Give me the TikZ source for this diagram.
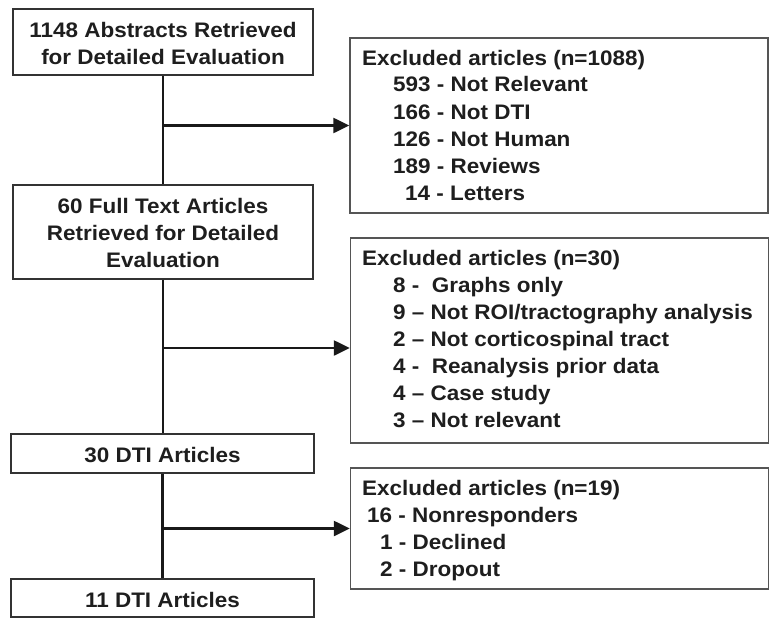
\documentclass[tikz,border=0pt]{standalone}
\usepackage{fontspec}
\setmainfont{Liberation Sans}[FakeStretch=1.07]
\usetikzlibrary{arrows.meta}
\newcommand\dfont{\bfseries\fontsize{21}{27}\selectfont}
\definecolor{txtc}{HTML}{1E1E1E}
\definecolor{lbox}{HTML}{333333}
\definecolor{rbox}{HTML}{555555}
\begin{document}
\begin{tikzpicture}[x=1pt,y=-1pt,
  lbx/.style={draw=lbox,line width=1.8pt,fill=white,inner sep=0pt,minimum width=300pt},
  rbx/.style={draw=rbox,line width=1.4pt,fill=white,inner sep=0pt,minimum width=418pt},
  ctxt/.style={align=center,inner sep=0pt,font=\dfont,text=txtc},
  ltxt/.style={anchor=base west,inner sep=0pt,font=\dfont,text=txtc},
  conn/.style={draw=black!90,line width=2.4pt},
  arr/.style={conn,-{Triangle[length=16pt,width=15pt]}}]
\useasboundingbox (0,0) rectangle (773,618);
% left boxes
\node[lbx,minimum height=66pt] (A) at (163,42) {};
\node[ctxt] (At) at (163,43) {1148 Abstracts Retrieved\\for Detailed Evaluation};
\node[lbx,minimum height=94pt] (B) at (163,232) {};
\node[ctxt] (Bt) at (163,233) {60 Full Text Articles\\Retrieved for Detailed\\Evaluation};
\node[lbx,minimum width=303pt,minimum height=39pt] (C) at (162.5,453.5) {};
\node[ltxt,anchor=base] (Ct) at (162.5,462) {30 DTI Articles};
\node[lbx,minimum width=303pt,minimum height=38pt] (D) at (162.5,598) {};
\node[ltxt,anchor=base] (Dt) at (162.5,607) {11 DTI Articles};
% right boxes
\node[rbx,minimum height=175pt] (R1) at (559,125.5) {};
\node[ltxt] (r1a) at (362,65) {Excluded articles (n=1088)};
\node[ltxt] (r1b) at (393,92) {593 - Not Relevant};
\node[ltxt] (r1c) at (393,119) {166 - Not DTI};
\node[ltxt] (r1d) at (393,146) {126 - Not Human};
\node[ltxt] (r1e) at (393,173) {189 - Reviews};
\node[ltxt] (r1f) at (405,200) {14 - Letters};
\node[rbx,minimum height=205pt] (R2) at (559.5,340.5) {};
\node[ltxt] (r2a) at (362,265) {Excluded articles (n=30)};
\node[ltxt] (r2b) at (393,292) {8 -\ \ Graphs only};
\node[ltxt] (r2c) at (393,319) {9 – Not ROI/tractography analysis};
\node[ltxt] (r2d) at (393,346) {2 – Not corticospinal tract};
\node[ltxt] (r2e) at (393,373) {4 -\ \ Reanalysis prior data};
\node[ltxt] (r2f) at (393,400) {4 – Case study};
\node[ltxt] (r2g) at (393,427) {3 – Not relevant};
\node[rbx,minimum height=121pt] (R3) at (559.5,528.5) {};
\node[ltxt] (r3a) at (362,495) {Excluded articles (n=19)};
\node[ltxt] (r3b) at (367,522) {16 - Nonresponders};
\node[ltxt] (r3c) at (380,549) {1 - Declined};
\node[ltxt] (r3d) at (380,576) {2 - Dropout};
% connectors
\coordinate (j2) at (163,348);
\draw[conn] (A.south) -- (B.north);
\draw[conn] (B.south) -- (B.south |- C.north);
\draw[conn] (C.south) -- (D.north);
\draw[arr] (A.south |- R1.west) -- (R1.west);
\draw[arr] (j2) -- (j2 -| R2.west);
\draw[arr] (C.south |- R3.west) -- (R3.west);
\end{tikzpicture}
\end{document}
